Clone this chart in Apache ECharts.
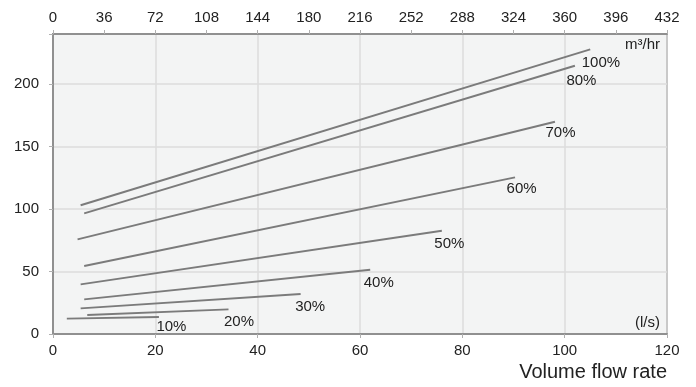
<!DOCTYPE html>
<html><head><meta charset="utf-8">
<script src="https://cdn.jsdelivr.net/npm/echarts@6/dist/echarts.min.js"></script>
<style>html,body{margin:0;padding:0;background:#fff}#c{width:696px;height:387px}</style>
</head><body><div id="c"></div>
<script>
var curveNames = ['100%','80%','70%','60%','50%','40%','30%','20%','10%'];
var startFlow = [5.4, 6.1, 4.8, 6.1, 5.4, 6.1, 5.4, 6.7, 2.7];
var startPressure = [103, 96.5, 75.7, 54.4, 39.7, 27.7, 20.5, 15.2, 12.3];
var endFlow = [105, 102, 98.1, 90.3, 76, 62, 48.4, 34.3, 20.7];
var endPressure = [227.7, 214.6, 169.8, 125.3, 82.6, 51.4, 32, 19.7, 13.6];
var labelOffsets = [[-8,6],[-8,8],[-9,4],[-8,4],[-7,6],[-6,6],[-5,6],[-4,5],[-2,3]];

var textColor = '#222';
var font = 'Liberation Sans, Arial, sans-serif';
var series = curveNames.map(function(n, i){
  return {
    type: 'line', name: n, xAxisIndex: 0, yAxisIndex: 0,
    symbol: 'circle', symbolSize: 1, showSymbol: true,
    itemStyle: {color: 'rgba(0,0,0,0)', borderWidth: 0},
    lineStyle: {color: '#7b7b7b', width: 2},
    animation: false, silent: true,
    data: [
      [startFlow[i], startPressure[i]],
      {value: [endFlow[i], endPressure[i]], label: {show: true, formatter: n, position: labelOffsets[i], color: textColor, fontSize: 15, fontFamily: font}}
    ]
  };
});

var chart = echarts.init(document.getElementById('c'), null, {renderer: 'canvas'});
chart.setOption({
  animation: false,
  grid: {left: 53, right: 29, top: 34, bottom: 53, show: true, backgroundColor: '#f3f4f4', borderColor: '#909090', borderWidth: 2},
  xAxis: [
    {type: 'value', position: 'bottom', min: 0, max: 120, interval: 20,
     axisLine: {show: true, lineStyle: {color: '#909090', width: 2}},
     axisTick: {show: true, length: 4, lineStyle: {color: '#b0b0b0'}},
     axisLabel: {color: textColor, fontSize: 15, fontFamily: font, margin: 9},
     splitLine: {show: true, lineStyle: {color: '#dcdcdc', width: 1.5}}},
    {type: 'value', position: 'top', min: 0, max: 432, interval: 36,
     axisLine: {show: true, lineStyle: {color: '#909090', width: 2}},
     axisTick: {show: true, length: 4, lineStyle: {color: '#b0b0b0'}},
     axisLabel: {color: textColor, fontSize: 15, fontFamily: font, margin: 9},
     splitLine: {show: false}}
  ],
  yAxis: [
    {type: 'value', min: 0, max: 240, interval: 50,
     axisLine: {show: true, lineStyle: {color: '#909090', width: 2}},
     axisTick: {show: true, length: 4, lineStyle: {color: '#b0b0b0'}},
     axisLabel: {color: textColor, fontSize: 15, fontFamily: font, margin: 14,
       formatter: function(v){ return v % 50 === 0 ? String(v) : ''; }},
     splitLine: {show: true, lineStyle: {color: '#dcdcdc', width: 1.5}}}
  ],
  graphic: [
    {type: 'text', right: 36, top: 37, style: {text: 'm³/hr', fill: textColor, font: '15px ' + font}},
    {type: 'text', right: 36, top: 315, style: {text: '(l/s)', fill: textColor, font: '15px ' + font}},
    {type: 'text', right: 29, top: 362, style: {text: 'Volume flow rate', fill: textColor, font: '20px ' + font}}
  ],
  series: series
});
</script></body></html>
